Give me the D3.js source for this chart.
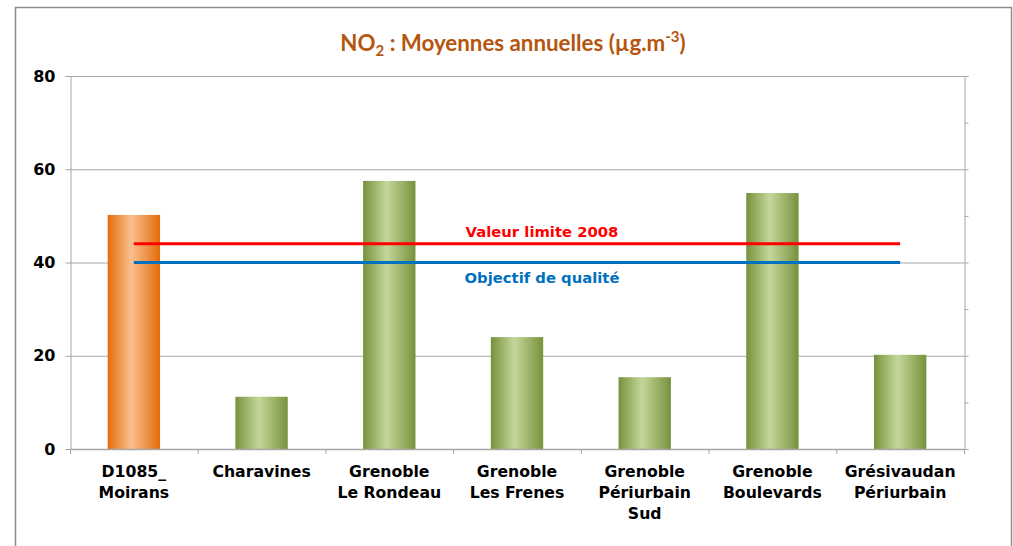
<!DOCTYPE html>
<html>
<head>
<meta charset="utf-8">
<script src="https://cdn.jsdelivr.net/npm/d3@7"></script>
<style>
  body { margin: 0; background: #fff; }
  svg { display: block; }
</style>
</head>
<body>
<script>
// data
var stations = [["D1085_", "Moirans"], ["Charavines"], ["Grenoble", "Le Rondeau"], ["Grenoble", "Les Frenes"],
                ["Grenoble", "Périurbain", "Sud"], ["Grenoble", "Boulevards"], ["Grésivaudan", "Périurbain"]];
var moyennes = [50.2, 11.2, 57.5, 24.0, 15.4, 54.9, 20.2];
var yTicks = [0, 20, 40, 60, 80];
var valeurLimite = 44;
var objectifQualite = 40;

var W = 1013, H = 546;
var margin = {top: 76, right: 49, bottom: 97, left: 70};
var width = W - margin.left - margin.right,
    height = H - margin.top - margin.bottom;

var svg = d3.select("body").append("svg")
    .attr("width", W)
    .attr("height", H);

// outer frame (no bottom edge visible)
svg.append("path")
    .attr("d", "M15.5," + H + "V7.5H1011.5V" + H)
    .attr("fill", "none")
    .attr("stroke", "#8c8c8c")
    .attr("stroke-width", 1.5);

// gradients
var defs = svg.append("defs");
function grad(id, dark, light) {
    var g = defs.append("linearGradient").attr("id", id)
        .attr("x1", "0%").attr("x2", "100%").attr("y1", "0%").attr("y2", "0%");
    g.append("stop").attr("offset", "0%").attr("stop-color", dark);
    g.append("stop").attr("offset", "45%").attr("stop-color", light);
    g.append("stop").attr("offset", "100%").attr("stop-color", dark);
}
grad("orange", "#e46c0a", "#fac090");
grad("green", "#76923c", "#c4d79b");

var g = svg.append("g")
    .attr("transform", "translate(" + margin.left + "," + margin.top + ")");

var x = d3.scaleBand()
    .domain(d3.range(stations.length))
    .range([0, width])
    .paddingInner(0.59)
    .paddingOuter(0.295);

var y = d3.scaleLinear()
    .domain([0, 80])
    .range([height, 0]);

// gridlines
g.selectAll(".grid")
    .data(yTicks)
    .enter().append("line")
    .attr("x1", 0).attr("x2", width)
    .attr("y1", function(d){ return y(d) + 0.5; })
    .attr("y2", function(d){ return y(d) + 0.5; })
    .attr("stroke", "#a6a6a6");

// left axis
var yaxis = d3.axisLeft(y).tickValues(yTicks).tickSize(5).tickPadding(10);
var ya = g.append("g").attr("transform", "translate(0.5,0)").call(yaxis);
ya.select(".domain").attr("stroke", "#a6a6a6");
ya.selectAll(".tick line").attr("stroke", "#a6a6a6");
ya.selectAll("text")
    .attr("font-family", "DejaVu Sans, Verdana, sans-serif")
    .attr("font-weight", "bold")
    .attr("font-size", "16px")
    .attr("fill", "#000");

// right axis, ticks every 10
var yaxis2 = d3.axisRight(y).tickValues(d3.range(0, 81, 10)).tickSize(4).tickFormat("");
var yr = g.append("g").attr("transform", "translate(" + (width + 0.5) + ",0)").call(yaxis2);
yr.select(".domain").attr("stroke", "#a6a6a6");
yr.selectAll(".tick line").attr("stroke", "#a6a6a6");

// bars
g.selectAll(".bar")
    .data(moyennes)
    .enter().append("rect")
    .attr("x", function(d, i){ return x(i); })
    .attr("y", function(d){ return y(d); })
    .attr("width", x.bandwidth())
    .attr("height", function(d){ return height - y(d); })
    .attr("fill", function(d, i){ return i == 0 ? "url(#orange)" : "url(#green)"; });

// x axis with ticks at category boundaries
g.append("line")
    .attr("x1", 0).attr("x2", width)
    .attr("y1", height + 0.5).attr("y2", height + 0.5)
    .attr("stroke", "#a6a6a6").attr("stroke-width", 1.5);
var step = x.step();
g.selectAll(".xtick")
    .data(d3.range(stations.length + 1))
    .enter().append("line")
    .attr("x1", function(d){ return d * step + 0.5; })
    .attr("x2", function(d){ return d * step + 0.5; })
    .attr("y1", height).attr("y2", height + 5)
    .attr("stroke", "#a6a6a6");

var labels = g.selectAll(".xlab")
    .data(stations)
    .enter().append("text")
    .attr("x", function(d, i){ return x(i) + x.bandwidth() / 2; })
    .attr("y", height + 28)
    .attr("text-anchor", "middle")
    .attr("font-family", "DejaVu Sans, Verdana, sans-serif")
    .attr("font-weight", "bold")
    .attr("font-size", "15.7px")
    .attr("fill", "#000");
labels.selectAll("tspan")
    .data(function(d){ return d; })
    .enter().append("tspan")
    .attr("x", function(){ return d3.select(this.parentNode).attr("x"); })
    .attr("dy", function(d, i){ return i == 0 ? 0 : 21; })
    .text(function(d){ return d; });

// reference lines from first to last category centre
var xStart = x(0) + x.bandwidth() / 2,
    xEnd = x(stations.length - 1) + x.bandwidth() / 2;

g.append("line")
    .attr("x1", xStart).attr("x2", xEnd)
    .attr("y1", y(valeurLimite)).attr("y2", y(valeurLimite))
    .attr("stroke", "#ff0000").attr("stroke-width", 3);
g.append("line")
    .attr("x1", xStart).attr("x2", xEnd)
    .attr("y1", y(objectifQualite)).attr("y2", y(objectifQualite))
    .attr("stroke", "#0070c0").attr("stroke-width", 3);

g.append("text")
    .attr("x", 472).attr("y", y(valeurLimite) - 7)
    .attr("text-anchor", "middle")
    .attr("font-family", "DejaVu Sans, Verdana, sans-serif")
    .attr("font-weight", "bold").attr("font-size", "14.8px")
    .attr("fill", "#ff0000")
    .text("Valeur limite 2008");
g.append("text")
    .attr("x", 472).attr("y", y(objectifQualite) + 20)
    .attr("text-anchor", "middle")
    .attr("font-family", "DejaVu Sans, Verdana, sans-serif")
    .attr("font-weight", "bold").attr("font-size", "14.8px")
    .attr("fill", "#0070c0")
    .text("Objectif de qualité");

// title
var title = svg.append("text")
    .attr("x", 513).attr("y", 51)
    .attr("text-anchor", "middle")
    .attr("font-family", "Lato, Open Sans, sans-serif")
    .attr("font-weight", "bold")
    .attr("font-size", "22.3px")
    .attr("fill", "#b5560f");
title.append("tspan").text("NO");
title.append("tspan").attr("font-size", "15px").attr("dy", 5).text("2");
title.append("tspan").attr("dy", -5).text(" : Moyennes annuelles (µg.m");
title.append("tspan").attr("font-size", "15px").attr("dy", -9).text("-3");
title.append("tspan").attr("dy", 9).text(")");
</script>
</body>
</html>
